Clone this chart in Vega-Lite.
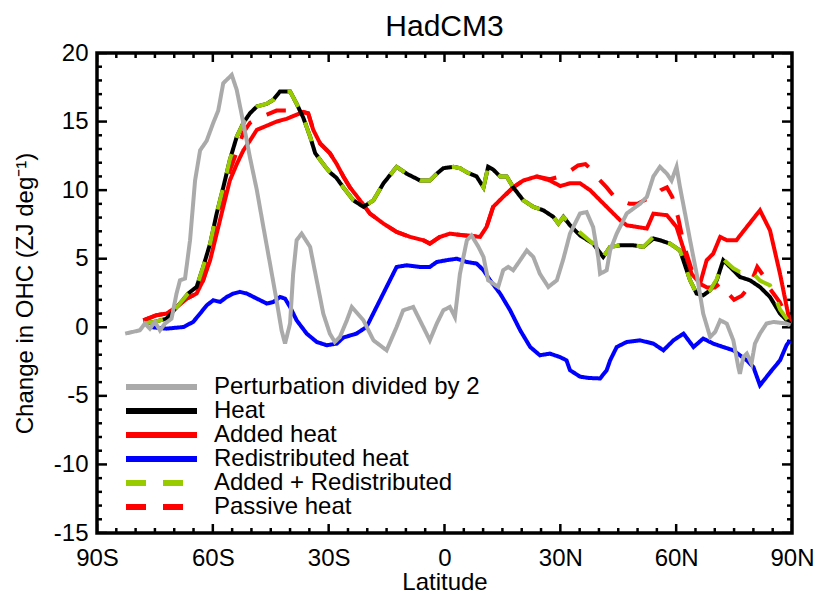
{
"$schema": "https://vega.github.io/schema/vega-lite/v6.json",
"width": 695, "height": 480,
"autosize": {"type": "none"},
"padding": {"left": 97, "top": 53, "right": 27, "bottom": 60},
"background": "white",
"title": {"text": "HadCM3", "fontSize": 30, "fontWeight": "normal", "font": "Liberation Sans", "color": "black", "anchor": "middle", "offset": -1},
"config": {"view": {"stroke": "black", "strokeWidth": 3.5}, "font": "Liberation Sans",
 "legend": {"orient": "none", "legendX": 52.5, "legendY": 322, "symbolType": "M-6,0H6", "symbolSize": 140, "symbolStrokeWidth": 6, "labelFontSize": 24, "labelFont": "Liberation Sans", "labelColor": "black", "labelOffset": 40.5, "rowPadding": -3.7, "title": null, "labelLimit": 0, "padding": 0}},
"resolve": {"axis": {"x": "independent", "y": "independent"}},
"datasets": {
"xticks": [{"lat":-90},{"lat":-85},{"lat":-80},{"lat":-75},{"lat":-70},{"lat":-65},{"lat":-60},{"lat":-55},{"lat":-50},{"lat":-45},{"lat":-40},{"lat":-35},{"lat":-30},{"lat":-25},{"lat":-20},{"lat":-15},{"lat":-10},{"lat":-5},{"lat":0},{"lat":5},{"lat":10},{"lat":15},{"lat":20},{"lat":25},{"lat":30},{"lat":35},{"lat":40},{"lat":45},{"lat":50},{"lat":55},{"lat":60},{"lat":65},{"lat":70},{"lat":75},{"lat":80},{"lat":85},{"lat":90}],
"yticks": [{"v":-15},{"v":-14},{"v":-13},{"v":-12},{"v":-11},{"v":-10},{"v":-9},{"v":-8},{"v":-7},{"v":-6},{"v":-5},{"v":-4},{"v":-3},{"v":-2},{"v":-1},{"v":0},{"v":1},{"v":2},{"v":3},{"v":4},{"v":5},{"v":6},{"v":7},{"v":8},{"v":9},{"v":10},{"v":11},{"v":12},{"v":13},{"v":14},{"v":15},{"v":16},{"v":17},{"v":18},{"v":19},{"v":20}],
"gray": [{"lat":-82.7,"v":-0.46},{"lat":-78.9,"v":-0.22},{"lat":-77.6,"v":0.27},{"lat":-76.3,"v":-0.1},{"lat":-75.0,"v":0.39},{"lat":-73.7,"v":-0.22},{"lat":-72.4,"v":0.27},{"lat":-70.7,"v":0.63},{"lat":-69.4,"v":2.46},{"lat":-68.5,"v":3.43},{"lat":-67.2,"v":3.55},{"lat":-65.9,"v":6.35},{"lat":-64.6,"v":10.7},{"lat":-63.3,"v":12.9},{"lat":-61.6,"v":13.6},{"lat":-59.9,"v":14.9},{"lat":-58.6,"v":15.8},{"lat":-57.3,"v":17.8},{"lat":-55.1,"v":18.4},{"lat":-53.8,"v":17.3},{"lat":-52.1,"v":14.9},{"lat":-50.4,"v":12.4},{"lat":-48.6,"v":10.0},{"lat":-46.9,"v":7.3},{"lat":-45.2,"v":4.65},{"lat":-43.5,"v":1.97},{"lat":-42.2,"v":-0.22},{"lat":-41.3,"v":-1.19},{"lat":-40.0,"v":0.27},{"lat":-39.2,"v":3.9},{"lat":-38.3,"v":6.35},{"lat":-37.0,"v":6.83},{"lat":-34.8,"v":5.86},{"lat":-33.1,"v":3.43},{"lat":-31.4,"v":1.0},{"lat":-29.7,"v":-0.46},{"lat":-28.4,"v":-1.07},{"lat":-27.1,"v":-0.71},{"lat":-25.3,"v":0.5},{"lat":-24.0,"v":1.48},{"lat":-21.0,"v":0.51},{"lat":-18.4,"v":-0.95},{"lat":-15.0,"v":-1.68},{"lat":-12.4,"v":0.02},{"lat":-10.7,"v":1.24},{"lat":-8.1,"v":1.48},{"lat":-5.5,"v":0.02},{"lat":-3.8,"v":-0.95},{"lat":-2.0,"v":0.27},{"lat":-0.3,"v":1.24},{"lat":1.4,"v":1.48},{"lat":2.7,"v":0.75},{"lat":4.0,"v":3.9},{"lat":5.8,"v":6.35},{"lat":7.0,"v":6.7},{"lat":8.8,"v":5.86},{"lat":10.1,"v":5.13},{"lat":11.3,"v":3.43},{"lat":12.6,"v":3.19},{"lat":13.9,"v":2.94},{"lat":15.2,"v":4.16},{"lat":16.5,"v":4.4},{"lat":17.8,"v":4.16},{"lat":19.6,"v":4.89},{"lat":21.3,"v":5.6},{"lat":23.0,"v":5.13},{"lat":24.7,"v":3.9},{"lat":26.9,"v":2.94},{"lat":29.1,"v":3.43},{"lat":30.8,"v":5.0},{"lat":32.5,"v":6.83},{"lat":35.1,"v":8.3},{"lat":36.8,"v":8.4},{"lat":38.5,"v":7.3},{"lat":39.8,"v":5.13},{"lat":40.3,"v":3.9},{"lat":42.0,"v":4.16},{"lat":42.9,"v":5.6},{"lat":44.6,"v":6.83},{"lat":47.2,"v":8.3},{"lat":50.6,"v":9.0},{"lat":52.4,"v":9.5},{"lat":54.1,"v":11.0},{"lat":55.8,"v":11.7},{"lat":57.6,"v":11.2},{"lat":58.8,"v":10.7},{"lat":60.1,"v":11.7},{"lat":61.0,"v":10.2},{"lat":62.3,"v":8.3},{"lat":63.6,"v":6.35},{"lat":65.3,"v":3.9},{"lat":67.0,"v":1.0},{"lat":68.8,"v":-0.71},{"lat":70.1,"v":-0.34},{"lat":71.4,"v":0.51},{"lat":73.1,"v":0.27},{"lat":74.8,"v":-0.95},{"lat":76.1,"v":-2.9},{"lat":76.5,"v":-3.4},{"lat":77.4,"v":-2.17},{"lat":78.3,"v":-1.92},{"lat":79.5,"v":-2.65},{"lat":80.4,"v":-1.19},{"lat":81.7,"v":-0.46},{"lat":83.4,"v":0.27},{"lat":85.2,"v":0.39},{"lat":88.6,"v":0.27},{"lat":89.5,"v":0.15}],
"heat": [{"lat":-78.0,"v":0.27},{"lat":-75.0,"v":0.4},{"lat":-72.0,"v":0.63},{"lat":-68.5,"v":1.73},{"lat":-66.4,"v":2.46},{"lat":-64.2,"v":2.94},{"lat":-62.5,"v":4.4},{"lat":-60.7,"v":6.1},{"lat":-59.0,"v":8.3},{"lat":-57.3,"v":10.2},{"lat":-55.6,"v":12.2},{"lat":-53.8,"v":13.9},{"lat":-52.1,"v":14.9},{"lat":-50.4,"v":15.6},{"lat":-48.6,"v":16.1},{"lat":-46.0,"v":16.3},{"lat":-44.3,"v":16.6},{"lat":-42.6,"v":17.2},{"lat":-40.0,"v":17.2},{"lat":-38.3,"v":16.3},{"lat":-36.6,"v":15.3},{"lat":-34.8,"v":13.9},{"lat":-33.5,"v":12.7},{"lat":-31.4,"v":11.9},{"lat":-29.7,"v":11.3},{"lat":-28.0,"v":10.9},{"lat":-26.2,"v":10.2},{"lat":-23.6,"v":9.26},{"lat":-21.0,"v":8.78},{"lat":-18.4,"v":9.26},{"lat":-15.8,"v":10.5},{"lat":-12.4,"v":11.7},{"lat":-9.8,"v":11.2},{"lat":-6.3,"v":10.7},{"lat":-3.8,"v":10.7},{"lat":-2.0,"v":11.2},{"lat":-0.3,"v":11.6},{"lat":2.3,"v":11.7},{"lat":4.0,"v":11.6},{"lat":5.8,"v":11.3},{"lat":8.3,"v":11.0},{"lat":10.1,"v":10.2},{"lat":11.3,"v":11.7},{"lat":12.6,"v":11.5},{"lat":14.4,"v":11.0},{"lat":16.1,"v":11.0},{"lat":17.8,"v":10.2},{"lat":20.4,"v":9.26},{"lat":23.0,"v":8.78},{"lat":25.6,"v":8.53},{"lat":28.2,"v":8.05},{"lat":29.5,"v":7.56},{"lat":30.8,"v":8.05},{"lat":32.5,"v":7.44},{"lat":35.1,"v":6.7},{"lat":38.5,"v":6.1},{"lat":41.1,"v":5.13},{"lat":42.9,"v":5.86},{"lat":45.5,"v":5.98},{"lat":48.9,"v":5.98},{"lat":51.5,"v":5.86},{"lat":54.1,"v":6.47},{"lat":55.8,"v":6.35},{"lat":58.4,"v":6.1},{"lat":61.0,"v":5.6},{"lat":63.6,"v":3.43},{"lat":65.3,"v":2.46},{"lat":67.0,"v":2.33},{"lat":68.8,"v":2.7},{"lat":70.5,"v":3.43},{"lat":72.2,"v":4.89},{"lat":74.8,"v":4.16},{"lat":76.5,"v":3.67},{"lat":79.1,"v":3.43},{"lat":81.7,"v":2.94},{"lat":84.3,"v":2.21},{"lat":86.9,"v":1.0},{"lat":89.5,"v":0.27}],
"addred": [{"lat":-78.0,"v":0.27},{"lat":-75.0,"v":0.4},{"lat":-72.0,"v":0.63},{"lat":-68.5,"v":1.73},{"lat":-66.4,"v":2.46},{"lat":-64.2,"v":2.94},{"lat":-62.5,"v":4.4},{"lat":-60.7,"v":6.1},{"lat":-59.0,"v":8.3},{"lat":-57.3,"v":10.2},{"lat":-55.6,"v":12.2},{"lat":-53.8,"v":13.9},{"lat":-52.1,"v":14.9},{"lat":-50.4,"v":15.6},{"lat":-48.6,"v":16.1},{"lat":-46.0,"v":16.3},{"lat":-44.3,"v":16.6},{"lat":-42.6,"v":17.2},{"lat":-40.0,"v":17.2},{"lat":-38.3,"v":16.3},{"lat":-36.6,"v":15.3},{"lat":-34.8,"v":13.9},{"lat":-33.5,"v":12.7},{"lat":-31.4,"v":11.9},{"lat":-29.7,"v":11.3},{"lat":-28.0,"v":10.9},{"lat":-26.2,"v":10.2},{"lat":-23.6,"v":9.26},{"lat":-21.0,"v":8.78},{"lat":-18.4,"v":9.26},{"lat":-15.8,"v":10.5},{"lat":-12.4,"v":11.7},{"lat":-9.8,"v":11.2},{"lat":-6.3,"v":10.7},{"lat":-3.8,"v":10.7},{"lat":-2.0,"v":11.2},{"lat":-0.3,"v":11.6},{"lat":2.3,"v":11.7},{"lat":4.0,"v":11.6},{"lat":5.8,"v":11.3},{"lat":8.3,"v":11.0},{"lat":10.1,"v":10.2},{"lat":11.3,"v":11.7},{"lat":12.6,"v":11.5},{"lat":14.4,"v":11.0},{"lat":16.1,"v":11.0},{"lat":17.8,"v":10.2},{"lat":20.4,"v":9.26},{"lat":23.0,"v":8.78},{"lat":25.6,"v":8.53},{"lat":28.2,"v":8.05},{"lat":29.5,"v":7.56},{"lat":30.8,"v":8.05},{"lat":32.5,"v":7.6},{"lat":35.1,"v":6.9},{"lat":38.5,"v":6.1},{"lat":41.1,"v":5.13},{"lat":42.9,"v":5.86},{"lat":45.5,"v":5.98},{"lat":48.9,"v":5.98},{"lat":51.5,"v":5.86},{"lat":54.1,"v":6.6},{"lat":55.8,"v":6.35},{"lat":58.4,"v":6.1},{"lat":61.0,"v":5.6},{"lat":63.6,"v":3.43},{"lat":65.3,"v":2.46},{"lat":67.0,"v":2.33},{"lat":68.8,"v":2.7},{"lat":70.5,"v":3.5},{"lat":72.2,"v":4.95},{"lat":74.8,"v":4.3},{"lat":76.5,"v":4.03},{"lat":79.1,"v":4.16},{"lat":81.7,"v":3.4},{"lat":84.3,"v":3.06},{"lat":86.9,"v":1.3},{"lat":89.5,"v":0.27}],
"added": [{"lat":-78.0,"v":0.51},{"lat":-74.6,"v":0.88},{"lat":-72.0,"v":1.0},{"lat":-69.4,"v":1.48},{"lat":-66.8,"v":2.09},{"lat":-64.2,"v":2.46},{"lat":-62.5,"v":3.43},{"lat":-60.7,"v":4.89},{"lat":-59.0,"v":6.83},{"lat":-57.3,"v":8.78},{"lat":-55.6,"v":10.7},{"lat":-53.8,"v":11.9},{"lat":-52.1,"v":12.9},{"lat":-50.4,"v":13.6},{"lat":-48.6,"v":14.4},{"lat":-46.0,"v":14.7},{"lat":-43.5,"v":15.0},{"lat":-40.9,"v":15.2},{"lat":-38.3,"v":15.5},{"lat":-36.6,"v":15.7},{"lat":-35.3,"v":15.6},{"lat":-34.0,"v":14.4},{"lat":-32.2,"v":13.4},{"lat":-29.7,"v":12.7},{"lat":-27.9,"v":11.9},{"lat":-26.2,"v":11.0},{"lat":-24.5,"v":10.2},{"lat":-22.8,"v":9.6},{"lat":-19.3,"v":8.29},{"lat":-15.8,"v":7.56},{"lat":-12.4,"v":6.95},{"lat":-8.9,"v":6.59},{"lat":-5.5,"v":6.35},{"lat":-3.8,"v":6.1},{"lat":-1.2,"v":6.59},{"lat":1.4,"v":6.83},{"lat":4.9,"v":6.71},{"lat":9.2,"v":6.59},{"lat":10.9,"v":7.32},{"lat":12.6,"v":8.78},{"lat":15.2,"v":9.51},{"lat":17.8,"v":10.2},{"lat":20.4,"v":10.7},{"lat":23.9,"v":11.0},{"lat":27.3,"v":10.7},{"lat":30.0,"v":10.3},{"lat":32.5,"v":10.5},{"lat":35.1,"v":10.5},{"lat":37.7,"v":10.0},{"lat":40.3,"v":9.26},{"lat":42.9,"v":8.53},{"lat":45.5,"v":7.8},{"lat":47.2,"v":7.44},{"lat":49.8,"v":7.32},{"lat":52.4,"v":7.2},{"lat":54.1,"v":8.29},{"lat":57.6,"v":8.17},{"lat":60.1,"v":7.32},{"lat":62.3,"v":5.37},{"lat":64.0,"v":3.9},{"lat":66.2,"v":3.19},{"lat":67.9,"v":4.89},{"lat":69.6,"v":5.37},{"lat":71.4,"v":6.59},{"lat":73.1,"v":6.35},{"lat":75.6,"v":6.35},{"lat":78.3,"v":7.32},{"lat":81.7,"v":8.53},{"lat":84.3,"v":7.07},{"lat":86.9,"v":3.9},{"lat":89.5,"v":0.27}],
"redist": [{"lat":-76.3,"v":0.02},{"lat":-72.0,"v":-0.1},{"lat":-67.6,"v":0.02},{"lat":-65.1,"v":0.39},{"lat":-63.3,"v":1.0},{"lat":-61.6,"v":1.6},{"lat":-59.9,"v":1.97},{"lat":-58.1,"v":1.85},{"lat":-56.4,"v":2.21},{"lat":-54.7,"v":2.46},{"lat":-53.0,"v":2.58},{"lat":-51.2,"v":2.46},{"lat":-48.6,"v":2.09},{"lat":-46.0,"v":1.73},{"lat":-44.3,"v":1.85},{"lat":-42.6,"v":2.21},{"lat":-41.3,"v":2.09},{"lat":-40.0,"v":1.48},{"lat":-38.3,"v":0.51},{"lat":-35.7,"v":-0.46},{"lat":-33.1,"v":-1.07},{"lat":-30.5,"v":-1.31},{"lat":-27.9,"v":-1.19},{"lat":-26.2,"v":-0.75},{"lat":-22.8,"v":-0.46},{"lat":-20.2,"v":0.02},{"lat":-17.6,"v":1.48},{"lat":-15.0,"v":2.94},{"lat":-12.4,"v":4.4},{"lat":-9.8,"v":4.52},{"lat":-6.3,"v":4.4},{"lat":-3.8,"v":4.4},{"lat":-2.0,"v":4.76},{"lat":0.5,"v":4.89},{"lat":3.2,"v":5.0},{"lat":5.8,"v":4.76},{"lat":8.3,"v":4.65},{"lat":10.1,"v":4.16},{"lat":11.8,"v":3.43},{"lat":14.4,"v":2.46},{"lat":17.0,"v":1.24},{"lat":19.6,"v":-0.22},{"lat":22.2,"v":-1.44},{"lat":24.7,"v":-2.04},{"lat":27.3,"v":-1.92},{"lat":29.9,"v":-2.17},{"lat":31.6,"v":-2.41},{"lat":32.5,"v":-3.13},{"lat":35.1,"v":-3.6},{"lat":37.5,"v":-3.7},{"lat":40.3,"v":-3.73},{"lat":42.0,"v":-3.13},{"lat":42.9,"v":-2.41},{"lat":44.6,"v":-1.44},{"lat":47.2,"v":-1.07},{"lat":50.6,"v":-0.95},{"lat":54.1,"v":-1.19},{"lat":56.7,"v":-1.68},{"lat":59.3,"v":-0.95},{"lat":61.9,"v":-0.46},{"lat":64.5,"v":-1.44},{"lat":67.0,"v":-0.82},{"lat":69.6,"v":-1.19},{"lat":72.2,"v":-1.44},{"lat":74.8,"v":-1.68},{"lat":76.5,"v":-2.04},{"lat":78.3,"v":-2.41},{"lat":80.0,"v":-2.9},{"lat":81.7,"v":-4.23},{"lat":84.3,"v":-3.3},{"lat":86.9,"v":-2.41},{"lat":88.6,"v":-1.3},{"lat":89.5,"v":-0.95}],
"passive": [{"lat":-78.0,"v":0.51},{"lat":-74.6,"v":0.88},{"lat":-72.0,"v":1.0},{"lat":-69.4,"v":1.48},{"lat":-66.8,"v":2.09},{"lat":-64.2,"v":2.46},{"lat":-62.5,"v":3.43},{"lat":-60.7,"v":5.2},{"lat":-59.0,"v":7.3},{"lat":-57.3,"v":9.5},{"lat":-55.6,"v":11.4},{"lat":-53.8,"v":12.8},{"lat":-52.1,"v":14.2},{"lat":-50.4,"v":14.9},{"lat":-48.6,"v":15.2},{"lat":-46.0,"v":15.5},{"lat":-43.5,"v":15.8},{"lat":-40.9,"v":15.8},{"lat":-38.3,"v":15.6},{"lat":-36.6,"v":15.7},{"lat":-35.3,"v":15.6},{"lat":-34.0,"v":14.4},{"lat":-32.2,"v":13.4},{"lat":-29.7,"v":12.7},{"lat":-27.9,"v":11.9},{"lat":-26.2,"v":11.0},{"lat":-24.5,"v":10.2},{"lat":-22.8,"v":9.6},{"lat":-19.3,"v":8.29},{"lat":-15.8,"v":7.56},{"lat":-12.4,"v":6.95},{"lat":-8.9,"v":6.59},{"lat":-5.5,"v":6.35},{"lat":-3.8,"v":6.1},{"lat":-1.2,"v":6.59},{"lat":1.4,"v":6.83},{"lat":4.9,"v":6.71},{"lat":9.2,"v":6.59},{"lat":10.9,"v":7.32},{"lat":12.6,"v":8.78},{"lat":15.2,"v":9.51},{"lat":17.8,"v":10.2},{"lat":20.4,"v":10.7},{"lat":23.9,"v":11.0},{"lat":27.3,"v":10.8},{"lat":30.0,"v":11.0},{"lat":32.0,"v":11.3},{"lat":34.6,"v":11.8},{"lat":36.5,"v":11.9},{"lat":38.0,"v":11.5},{"lat":40.0,"v":10.8},{"lat":42.0,"v":10.2},{"lat":44.0,"v":9.5},{"lat":46.0,"v":9.2},{"lat":48.0,"v":9.0},{"lat":50.0,"v":9.0},{"lat":52.0,"v":9.3},{"lat":54.0,"v":9.5},{"lat":56.0,"v":10.0},{"lat":57.6,"v":10.2},{"lat":59.0,"v":9.5},{"lat":60.5,"v":8.0},{"lat":62.0,"v":6.0},{"lat":64.0,"v":4.2},{"lat":66.0,"v":3.2},{"lat":68.0,"v":2.9},{"lat":70.0,"v":2.9},{"lat":71.4,"v":3.2},{"lat":73.0,"v":2.6},{"lat":75.0,"v":2.0},{"lat":77.0,"v":2.3},{"lat":79.0,"v":3.0},{"lat":81.0,"v":4.4},{"lat":82.5,"v":3.8},{"lat":84.3,"v":2.8},{"lat":86.9,"v":1.8},{"lat":89.5,"v":0.27}]
},
"layer": [
 {"data": {"name": "xticks"},
  "mark": {"type": "tick", "orient": "vertical", "clip": true, "thickness": 2.5, "color": "black", "opacity": 1},
  "encoding": {
   "x": {"field": "lat", "type": "quantitative", "scale": {"domain": [-90, 90], "nice": false, "zero": false},
     "axis": {"orient": "bottom", "values": [-90, -60, -30, 0, 30, 60, 90],
       "labelExpr": "datum.value < 0 ? (-datum.value) + 'S' : (datum.value > 0 ? datum.value + 'N' : '0')",
       "ticks": false, "domain": false, "grid": false,
       "labelFontSize": 24, "labelFont": "Liberation Sans", "labelColor": "black", "labelPadding": 13, "labelFlush": false, "labelOverlap": false,
       "title": "Latitude", "titleFontSize": 24, "titleFontWeight": "normal", "titleFont": "Liberation Sans", "titleColor": "black", "titlePadding": 0}},
   "y": {"datum": -15, "type": "quantitative", "scale": {"domain": [-15, 20], "nice": false, "zero": false},
     "axis": {"orient": "left", "values": [-15, -10, -5, 0, 5, 10, 15, 20],
       "labelExpr": "'' + datum.value",
       "ticks": false, "domain": false, "grid": false,
       "labelFontSize": 24, "labelFont": "Liberation Sans", "labelColor": "black", "labelPadding": 9, "labelOverlap": false, "labelFlush": false,
       "title": "Change in OHC (ZJ deg⁻¹)", "titleFontSize": 24, "titleFontWeight": "normal", "titleFont": "Liberation Sans", "titleColor": "black", "titlePadding": 16}},
   "size": {"condition": {"test": "datum.lat % 30 === 0", "value": 18}, "value": 10}
  }},
 {"data": {"name": "xticks"},
  "mark": {"type": "tick", "orient": "vertical", "clip": true, "thickness": 2.5, "color": "black", "opacity": 1},
  "encoding": {
   "x": {"field": "lat", "type": "quantitative", "scale": {"domain": [-90, 90], "nice": false, "zero": false}, "axis": null},
   "y": {"datum": 20, "type": "quantitative", "scale": {"domain": [-15, 20], "nice": false, "zero": false}, "axis": null},
   "size": {"condition": {"test": "datum.lat % 30 === 0", "value": 18}, "value": 10}
  }},
 {"data": {"name": "yticks"},
  "mark": {"type": "tick", "orient": "horizontal", "clip": true, "thickness": 2.5, "color": "black", "opacity": 1},
  "encoding": {
   "y": {"field": "v", "type": "quantitative", "scale": {"domain": [-15, 20], "nice": false, "zero": false}, "axis": null},
   "x": {"datum": -90, "type": "quantitative", "scale": {"domain": [-90, 90], "nice": false, "zero": false}, "axis": null},
   "size": {"condition": {"test": "datum.v % 5 === 0", "value": 20}, "value": 10}
  }},
 {"data": {"name": "yticks"},
  "mark": {"type": "tick", "orient": "horizontal", "clip": true, "thickness": 2.5, "color": "black", "opacity": 1},
  "encoding": {
   "y": {"field": "v", "type": "quantitative", "scale": {"domain": [-15, 20], "nice": false, "zero": false}, "axis": null},
   "x": {"datum": 90, "type": "quantitative", "scale": {"domain": [-90, 90], "nice": false, "zero": false}, "axis": null},
   "size": {"condition": {"test": "datum.v % 5 === 0", "value": 20}, "value": 10}
  }},
 {"data": {"name": "passive"},
  "mark": {"type": "line", "strokeWidth": 4, "strokeCap": "butt"},
  "encoding": {
   "x": {"field": "lat", "type": "quantitative", "scale": {"domain": [-90, 90], "nice": false, "zero": false}, "axis": null},
   "y": {"field": "v", "type": "quantitative", "scale": {"domain": [-15, 20], "nice": false, "zero": false}, "axis": null},
   "color": {"datum": "Passive heat", "scale": {"domain": ["Perturbation divided by 2", "Heat", "Added heat", "Redistributed heat", "Added + Redistributed", "Passive heat"], "range": ["#aaaaaa", "#000000", "#ff0000", "#0000ff", "#99cc00", "#ff0000"]}},
   "strokeDash": {"datum": "Passive heat", "scale": {"domain": ["Perturbation divided by 2", "Heat", "Added heat", "Redistributed heat", "Added + Redistributed", "Passive heat"], "range": [[1,0],[1,0],[1,0],[1,0],[20,17],[20,17]]}}
  }},
 {"data": {"name": "added"},
  "mark": {"type": "line", "strokeWidth": 4},
  "encoding": {
   "x": {"field": "lat", "type": "quantitative", "scale": {"domain": [-90, 90], "nice": false, "zero": false}, "axis": null},
   "y": {"field": "v", "type": "quantitative", "scale": {"domain": [-15, 20], "nice": false, "zero": false}, "axis": null},
   "color": {"datum": "Added heat", "scale": {"domain": ["Perturbation divided by 2", "Heat", "Added heat", "Redistributed heat", "Added + Redistributed", "Passive heat"], "range": ["#aaaaaa", "#000000", "#ff0000", "#0000ff", "#99cc00", "#ff0000"]}},
   "strokeDash": {"datum": "Added heat", "scale": {"domain": ["Perturbation divided by 2", "Heat", "Added heat", "Redistributed heat", "Added + Redistributed", "Passive heat"], "range": [[1,0],[1,0],[1,0],[1,0],[20,17],[20,17]]}}
  }},
 {"data": {"name": "redist"},
  "mark": {"type": "line", "strokeWidth": 4},
  "encoding": {
   "x": {"field": "lat", "type": "quantitative", "scale": {"domain": [-90, 90], "nice": false, "zero": false}, "axis": null},
   "y": {"field": "v", "type": "quantitative", "scale": {"domain": [-15, 20], "nice": false, "zero": false}, "axis": null},
   "color": {"datum": "Redistributed heat", "scale": {"domain": ["Perturbation divided by 2", "Heat", "Added heat", "Redistributed heat", "Added + Redistributed", "Passive heat"], "range": ["#aaaaaa", "#000000", "#ff0000", "#0000ff", "#99cc00", "#ff0000"]}},
   "strokeDash": {"datum": "Redistributed heat", "scale": {"domain": ["Perturbation divided by 2", "Heat", "Added heat", "Redistributed heat", "Added + Redistributed", "Passive heat"], "range": [[1,0],[1,0],[1,0],[1,0],[20,17],[20,17]]}}
  }},
 {"data": {"name": "heat"},
  "mark": {"type": "line", "strokeWidth": 4},
  "encoding": {
   "x": {"field": "lat", "type": "quantitative", "scale": {"domain": [-90, 90], "nice": false, "zero": false}, "axis": null},
   "y": {"field": "v", "type": "quantitative", "scale": {"domain": [-15, 20], "nice": false, "zero": false}, "axis": null},
   "color": {"datum": "Heat", "scale": {"domain": ["Perturbation divided by 2", "Heat", "Added heat", "Redistributed heat", "Added + Redistributed", "Passive heat"], "range": ["#aaaaaa", "#000000", "#ff0000", "#0000ff", "#99cc00", "#ff0000"]}},
   "strokeDash": {"datum": "Heat", "scale": {"domain": ["Perturbation divided by 2", "Heat", "Added heat", "Redistributed heat", "Added + Redistributed", "Passive heat"], "range": [[1,0],[1,0],[1,0],[1,0],[20,17],[20,17]]}}
  }},
 {"data": {"name": "addred"},
  "mark": {"type": "line", "strokeWidth": 4, "strokeCap": "butt"},
  "encoding": {
   "x": {"field": "lat", "type": "quantitative", "scale": {"domain": [-90, 90], "nice": false, "zero": false}, "axis": null},
   "y": {"field": "v", "type": "quantitative", "scale": {"domain": [-15, 20], "nice": false, "zero": false}, "axis": null},
   "color": {"datum": "Added + Redistributed", "scale": {"domain": ["Perturbation divided by 2", "Heat", "Added heat", "Redistributed heat", "Added + Redistributed", "Passive heat"], "range": ["#aaaaaa", "#000000", "#ff0000", "#0000ff", "#99cc00", "#ff0000"]}},
   "strokeDash": {"datum": "Added + Redistributed", "scale": {"domain": ["Perturbation divided by 2", "Heat", "Added heat", "Redistributed heat", "Added + Redistributed", "Passive heat"], "range": [[1,0],[1,0],[1,0],[1,0],[20,17],[20,17]]}}
  }},
 {"data": {"name": "gray"},
  "mark": {"type": "line", "strokeWidth": 4},
  "encoding": {
   "x": {"field": "lat", "type": "quantitative", "scale": {"domain": [-90, 90], "nice": false, "zero": false}, "axis": null},
   "y": {"field": "v", "type": "quantitative", "scale": {"domain": [-15, 20], "nice": false, "zero": false}, "axis": null},
   "color": {"datum": "Perturbation divided by 2", "scale": {"domain": ["Perturbation divided by 2", "Heat", "Added heat", "Redistributed heat", "Added + Redistributed", "Passive heat"], "range": ["#aaaaaa", "#000000", "#ff0000", "#0000ff", "#99cc00", "#ff0000"]}},
   "strokeDash": {"datum": "Perturbation divided by 2", "scale": {"domain": ["Perturbation divided by 2", "Heat", "Added heat", "Redistributed heat", "Added + Redistributed", "Passive heat"], "range": [[1,0],[1,0],[1,0],[1,0],[20,17],[20,17]]}}
  }}
]
}
